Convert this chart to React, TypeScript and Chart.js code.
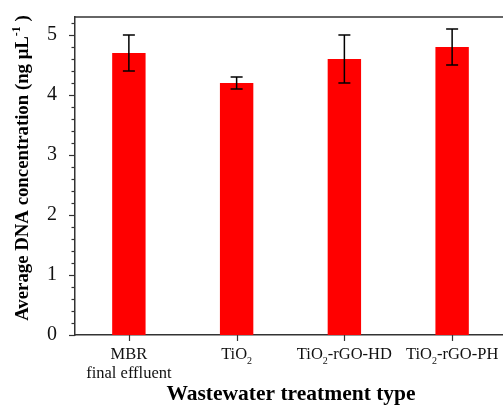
import React, { useEffect, useRef } from "react";
import { Chart, registerables } from "chart.js";

Chart.register(...registerables);

// Treatment types (₂ is drawn as a subscript)
const categories: string[][] = [
  ["MBR", "final effluent"],
  ["TiO₂"],
  ["TiO₂-rGO-HD"],
  ["TiO₂-rGO-PH"],
];
// Mean DNA concentration, ng/µL
const meanValues: number[] = [4.7, 4.2, 4.6, 4.8];
// Error bar bounds
const errorLow: number[] = [4.4, 4.1, 4.2, 4.5];
const errorHigh: number[] = [5.0, 4.3, 5.0, 5.1];
// Y axis
const yMin = 0;
const yMax = 5.3;
const yMajorTicks: number[] = [0, 1, 2, 3, 4, 5];
const yMinorStep = 0.2;

const xTitle = "Wastewater treatment type";
const yTitle = "Average DNA concentration (ng μL⁻¹ )";

const SERIF = "'Liberation Serif', 'Times New Roman', serif";
const AXIS_COLOR = "#333";

// Split text into runs of normal / subscript / superscript characters
type Run = { text: string; kind: "n" | "sub" | "sup" };
function splitRuns(s: string): Run[] {
  const runs: Run[] = [];
  const supMap: Record<string, string> = { "⁻": "-", "¹": "1" };
  const subMap: Record<string, string> = { "₂": "2" };
  for (const ch of s) {
    let kind: Run["kind"] = "n";
    let t = ch;
    if (subMap[ch]) { kind = "sub"; t = subMap[ch]; }
    else if (supMap[ch]) { kind = "sup"; t = supMap[ch]; }
    const last = runs[runs.length - 1];
    if (last && last.kind === kind) last.text += t;
    else runs.push({ text: t, kind });
  }
  return runs;
}

function drawRich(
  ctx: CanvasRenderingContext2D,
  s: string,
  cx: number,
  baseline: number,
  size: number,
  bold: boolean
) {
  const runs = splitRuns(s);
  const w = bold ? "bold " : "";
  const fontFor = (k: Run["kind"]) =>
    `${w}${k === "n" ? size : Math.round(size * 0.62)}px ${SERIF}`;
  let total = 0;
  for (const r of runs) {
    ctx.font = fontFor(r.kind);
    total += ctx.measureText(r.text).width;
  }
  let x = cx - total / 2;
  ctx.textAlign = "left";
  ctx.textBaseline = "alphabetic";
  for (const r of runs) {
    ctx.font = fontFor(r.kind);
    const dy = r.kind === "sub" ? size * 0.3 : r.kind === "sup" ? -size * 0.45 : 0;
    ctx.fillText(r.text, x, baseline + dy);
    x += ctx.measureText(r.text).width;
  }
}

const decorPlugin = {
  id: "decor",
  afterDatasetsDraw(chart: any) {
    const ctx: CanvasRenderingContext2D = chart.ctx;
    const xs = chart.scales.x;
    const ys = chart.scales.y;
    const area = chart.chartArea;
    ctx.save();

    // error bars
    ctx.strokeStyle = "#000";
    ctx.lineWidth = 1.5;
    const cap = 6;
    meanValues.forEach((_, i) => {
      const x = xs.getPixelForValue(i);
      const yl = ys.getPixelForValue(errorLow[i]);
      const yh = ys.getPixelForValue(errorHigh[i]);
      ctx.beginPath();
      ctx.moveTo(x, yl);
      ctx.lineTo(x, yh);
      ctx.moveTo(x - cap, yl);
      ctx.lineTo(x + cap, yl);
      ctx.moveTo(x - cap, yh);
      ctx.lineTo(x + cap, yh);
      ctx.stroke();
    });

    // top frame line
    ctx.strokeStyle = AXIS_COLOR;
    ctx.lineWidth = 1.5;
    ctx.beginPath();
    ctx.moveTo(area.left, area.top);
    ctx.lineTo(area.right, area.top);
    ctx.stroke();

    // y ticks: major at integers, minor every 0.2
    ctx.lineWidth = 1.2;
    const nSteps = Math.round((yMax - yMin) / yMinorStep);
    for (let k = 0; k <= nSteps; k++) {
      const v = yMin + k * yMinorStep;
      if (v > yMax + 1e-9) break;
      const major = Math.abs(v - Math.round(v)) < 1e-6;
      const y = Math.round(ys.getPixelForValue(v)) + 0.5;
      ctx.beginPath();
      ctx.moveTo(area.left, y);
      ctx.lineTo(area.left - (major ? 6 : 3.5), y);
      ctx.stroke();
    }

    // x ticks
    categories.forEach((_, i) => {
      const x = Math.round(xs.getPixelForValue(i)) + 0.5;
      ctx.beginPath();
      ctx.moveTo(x, area.bottom);
      ctx.lineTo(x, area.bottom + 6);
      ctx.stroke();
    });

    // x category labels
    ctx.fillStyle = "#111";
    categories.forEach((lines, i) => {
      const x = xs.getPixelForValue(i);
      lines.forEach((line, j) => {
        drawRich(ctx, line, x, area.bottom + 24 + j * 19, 16.5, false);
      });
    });

    // axis titles
    ctx.fillStyle = "#000";
    drawRich(ctx, xTitle, 291, 400, 21.5, true);
    ctx.save();
    ctx.translate(28, 168);
    ctx.rotate(-Math.PI / 2);
    drawRich(ctx, yTitle, 0, 0, 18.8, true);
    ctx.restore();

    ctx.restore();
  },
};

export default function App() {
  const ref = useRef<HTMLCanvasElement | null>(null);

  useEffect(() => {
    if (!ref.current) return;
    const chart = new Chart(ref.current, {
      type: "bar",
      data: {
        labels: categories.map((c) => c.join(" ")),
        datasets: [
          {
            data: meanValues,
            backgroundColor: "#ff0000",
            borderWidth: 0,
            barPercentage: 0.31,
            categoryPercentage: 1,
          },
        ],
      },
      options: {
        animation: false,
        responsive: false,
        maintainAspectRatio: false,
        devicePixelRatio: 1,
        layout: { padding: { left: 0, top: 17, right: 4, bottom: 0 } },
        plugins: {
          legend: { display: false },
          tooltip: { enabled: false },
        },
        scales: {
          x: {
            offset: true,
            grid: { display: false },
            border: { display: true, color: AXIS_COLOR, width: 1.5 },
            ticks: { display: false },
            afterFit: (s: any) => {
              s.height = 71;
            },
          },
          y: {
            min: yMin,
            max: yMax,
            grid: { display: false },
            border: { display: true, color: AXIS_COLOR, width: 1.5 },
            ticks: {
              padding: 10,
              color: "#111",
              font: { family: SERIF, size: 20 },
            },
            afterBuildTicks: (s: any) => {
              s.ticks = yMajorTicks.map((v) => ({ value: v }));
            },
            afterFit: (s: any) => {
              s.width = 75;
              s.paddingTop = 0;
              s.paddingBottom = 0;
            },
          },
        },
      },
      plugins: [decorPlugin],
    });
    return () => chart.destroy();
  }, []);

  return (
    <div
      style={{
        position: "absolute",
        left: 0,
        top: 0,
        width: 503,
        height: 406,
        overflow: "hidden",
        background: "#fff",
      }}
    >
      <canvas ref={ref} width={510} height={406} style={{ display: "block" }} />
    </div>
  );
}
